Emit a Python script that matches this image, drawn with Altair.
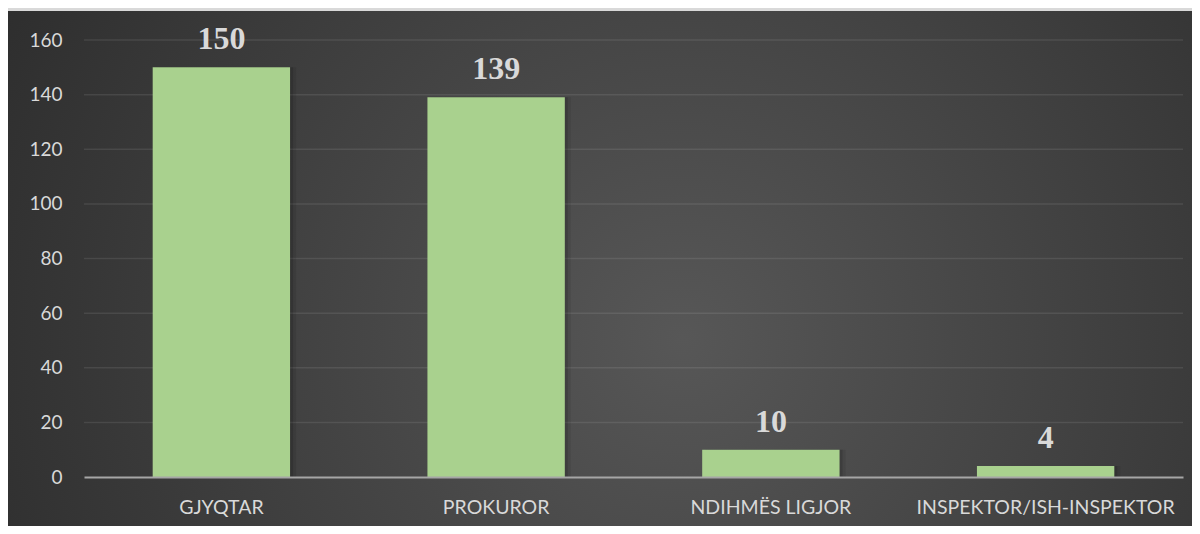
import altair as alt
import pandas as pd

categories = ["GJYQTAR", "PROKUROR", "NDIHMËS LIGJOR", "INSPEKTOR/ISH-INSPEKTOR"]
values = [150, 139, 10, 4]
y_ticks = [0, 20, 40, 60, 80, 100, 120, 140, 160]

W, H = 1099, 437
PL, PT, PR, PB = 76, 32, 9, 49

df = pd.DataFrame({"cat": categories, "value": values})
grid_df = pd.DataFrame({"v": y_ticks[1:]})

yscale = alt.Scale(domain=[0, 160], nice=False, zero=True)
xscale = alt.Scale(paddingInner=0.5, paddingOuter=0.25)

xaxis = alt.Axis(title=None, labelAngle=0, ticks=False, domain=True,
                 domainColor="#a6a6a6", domainWidth=2, labelPadding=21,
                 labelFont="Lato", labelFontSize=19.5, labelColor="#d9d9d9",
                 labelLimit=0, zindex=1, grid=False)
yaxis = alt.Axis(title=None, values=y_ticks, grid=False, domain=False, ticks=False,
                 labelPadding=22, labelFont="Lato", labelFontSize=19,
                 labelColor="#d9d9d9", zindex=1)

X = alt.X("cat:N", sort=categories, scale=xscale, axis=xaxis)
Y = alt.Y("value:Q", scale=yscale, axis=yaxis)

bg = alt.Chart(alt.Data(values=[{"a": 1}])).mark_rect(
    fill=alt.RadialGradient(
        gradient="radial",
        x1=0.56, y1=0.55, r1=0,
        x2=0.56, y2=0.55, r2=0.75,
        stops=[alt.GradientStop(offset=0, color="#575757"),
               alt.GradientStop(offset=1, color="#262626")],
    )
).encode(
    x=alt.value(-PL), x2=alt.value(W + PR + 20),
    y=alt.value(-PT + 3), y2=alt.value(H + PB + 20),
)

grid = alt.Chart(grid_df).mark_rule(color="#ffffff", opacity=0.09, strokeWidth=1.5).encode(
    y=alt.Y("v:Q", scale=yscale, axis=yaxis),
    x=alt.value(0), x2=alt.value(W),
)

shadow1 = alt.Chart(df).mark_bar(color="#000000", opacity=0.12, xOffset=3).encode(x=X, y=Y)
shadow2 = alt.Chart(df).mark_bar(color="#000000", opacity=0.08, xOffset=6).encode(x=X, y=Y)

bars = alt.Chart(df).mark_bar(color="#a9d18e").encode(x=X, y=Y)

labels = alt.Chart(df).mark_text(
    font="Liberation Serif", fontWeight="bold", fontSize=32, color="#d9d9d9",
    baseline="alphabetic", dy=-18,
).encode(x=X, y=Y, text=alt.Text("value:Q"))

chart = alt.layer(bg, grid, shadow2, shadow1, bars, labels).properties(
    width=W, height=H,
    padding={"left": PL, "top": PT, "right": PR, "bottom": PB},
    autosize=alt.AutoSizeParams(type="none"),
    background="#d9d9d9",
).configure_view(stroke=None)

chart.save("out.html", embed_options={"renderer": "svg", "actions": False})
